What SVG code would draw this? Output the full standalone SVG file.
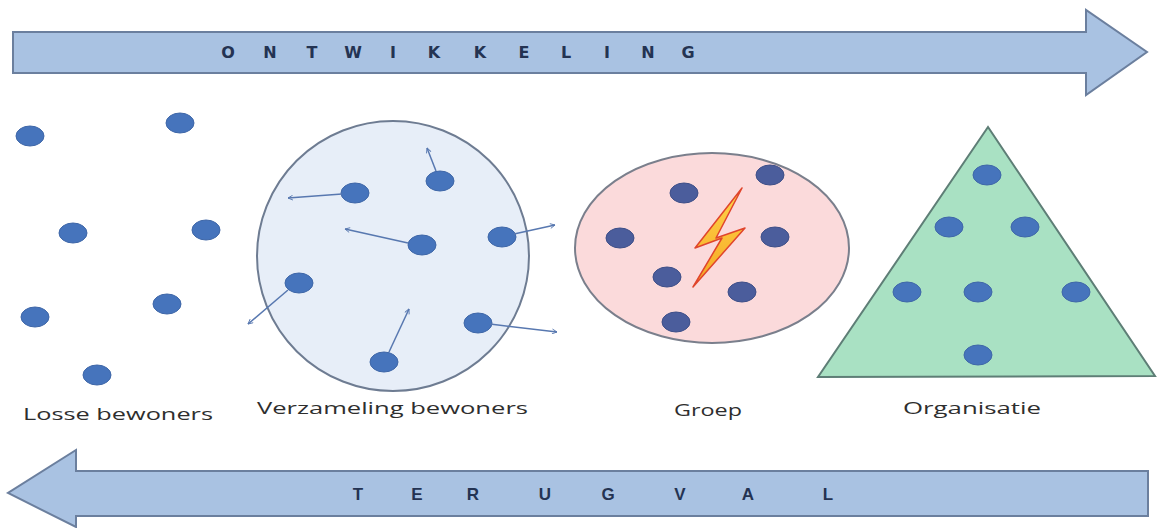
<svg xmlns="http://www.w3.org/2000/svg" width="1157" height="528" viewBox="0 0 1157 528">
<defs>
<style>
.dot{fill:#4674BC;stroke:#3F67A8;stroke-width:1}
.gdot{fill:#4B5D9C;stroke:#3E4F88;stroke-width:1}
.big{stroke:#6B7F9E;stroke-width:2;fill:#A9C2E2}
.bigtxt{font-family:"DejaVu Sans","Liberation Sans",sans-serif;font-weight:bold;fill:#243352}
.lbl{font-family:"Open Sans","Liberation Sans",sans-serif;font-size:17px;fill:#2E2E2E}
.mv{stroke:#5878B0;stroke-width:1.5;fill:none;marker-end:url(#ah)}
</style>
<marker id="ah" viewBox="0 0 10 10" refX="9" refY="5" markerWidth="6" markerHeight="6" orient="auto" markerUnits="userSpaceOnUse">
<path d="M1,1 L9,5 L1,9" fill="none" stroke="#5878B0" stroke-width="1.5"/>
</marker>
<linearGradient id="bolt" x1="0" y1="0" x2="0" y2="1">
<stop offset="0" stop-color="#FFD54A"/>
<stop offset="1" stop-color="#F5A623"/>
</linearGradient>
</defs>
<rect width="1157" height="528" fill="#FFFFFF"/>

<g id="ontwikkeling">
<path class="big" d="M13,32 L1086,32 L1086,10 L1147,52 L1086,95 L1086,73 L13,73 Z"/>
<g class="bigtxt" font-size="16" text-anchor="middle">
<text x="228" y="58">O</text><text x="270" y="58">N</text><text x="312" y="58">T</text><text x="353" y="58">W</text><text x="393" y="58">I</text><text x="434" y="58">K</text><text x="480" y="58">K</text><text x="524" y="58">E</text><text x="566" y="58">L</text><text x="607" y="58">I</text><text x="648" y="58">N</text><text x="688" y="58">G</text>
</g>
</g>

<g id="terugval">
<path class="big" d="M1148,471 L76,471 L76,450 L8,493 L76,527 L76,516 L1148,516 Z"/>
<g class="bigtxt" font-size="17" text-anchor="middle" style="font-family:'Liberation Sans','DejaVu Sans',sans-serif">
<text x="358" y="500">T</text><text x="417" y="500">E</text><text x="473" y="500">R</text><text x="545" y="500">U</text><text x="608" y="500">G</text><text x="680" y="500">V</text><text x="748" y="500">A</text><text x="828" y="500">L</text>
</g>
</g>

<g id="losse-bewoners">
<ellipse class="dot" cx="30" cy="136" rx="14" ry="10"/>
<ellipse class="dot" cx="180" cy="123" rx="14" ry="10"/>
<ellipse class="dot" cx="73" cy="233" rx="14" ry="10"/>
<ellipse class="dot" cx="206" cy="230" rx="14" ry="10"/>
<ellipse class="dot" cx="35" cy="317" rx="14" ry="10"/>
<ellipse class="dot" cx="167" cy="304" rx="14" ry="10"/>
<ellipse class="dot" cx="97" cy="375" rx="14" ry="10"/>
<text class="lbl" x="23" y="420" textLength="190" lengthAdjust="spacingAndGlyphs">Losse bewoners</text>
</g>

<g id="verzameling-bewoners">
<ellipse cx="393" cy="256" rx="136" ry="135" fill="#E7EEF8" stroke="#6E7C92" stroke-width="2"/>
<ellipse class="dot" cx="355" cy="193" rx="14" ry="10"/>
<ellipse class="dot" cx="440" cy="181" rx="14" ry="10"/>
<ellipse class="dot" cx="422" cy="245" rx="14" ry="10"/>
<ellipse class="dot" cx="502" cy="237" rx="14" ry="10"/>
<ellipse class="dot" cx="299" cy="283" rx="14" ry="10"/>
<ellipse class="dot" cx="478" cy="323" rx="14" ry="10"/>
<ellipse class="dot" cx="384" cy="362" rx="14" ry="10"/>
<text class="lbl" x="257" y="414" textLength="271" lengthAdjust="spacingAndGlyphs">Verzameling bewoners</text>
</g>

<g id="connectors">
<line class="mv" x1="342" y1="194" x2="288" y2="198"/>
<line class="mv" x1="436" y1="171" x2="427" y2="148"/>
<line class="mv" x1="408" y1="243" x2="345" y2="229"/>
<line class="mv" x1="514" y1="234" x2="555" y2="225"/>
<line class="mv" x1="288" y1="290" x2="248" y2="324"/>
<line class="mv" x1="490" y1="324" x2="557" y2="332"/>
<line class="mv" x1="389" y1="352" x2="409" y2="309"/>
</g>

<g id="groep">
<ellipse cx="712" cy="248" rx="137" ry="95" fill="#FBDADB" stroke="#7A7F8C" stroke-width="2"/>
<ellipse class="gdot" cx="684" cy="193" rx="14" ry="10"/>
<ellipse class="gdot" cx="770" cy="175" rx="14" ry="10"/>
<ellipse class="gdot" cx="620" cy="238" rx="14" ry="10"/>
<ellipse class="gdot" cx="775" cy="237" rx="14" ry="10"/>
<ellipse class="gdot" cx="667" cy="277" rx="14" ry="10"/>
<ellipse class="gdot" cx="742" cy="292" rx="14" ry="10"/>
<ellipse class="gdot" cx="676" cy="322" rx="14" ry="10"/>
<polygon points="742,188 695,248 722,238 693,287 745,228 716,238" fill="url(#bolt)" stroke="#E0452C" stroke-width="1.5" stroke-linejoin="round"/>
<text class="lbl" x="674" y="416" font-size="19" textLength="68" lengthAdjust="spacingAndGlyphs">Groep</text>
</g>

<g id="organisatie">
<polygon points="988,127 818,377 1155,376" fill="#A9E1C3" stroke="#5E7E76" stroke-width="2"/>
<ellipse class="dot" cx="987" cy="175" rx="14" ry="10"/>
<ellipse class="dot" cx="949" cy="227" rx="14" ry="10"/>
<ellipse class="dot" cx="1025" cy="227" rx="14" ry="10"/>
<ellipse class="dot" cx="907" cy="292" rx="14" ry="10"/>
<ellipse class="dot" cx="978" cy="292" rx="14" ry="10"/>
<ellipse class="dot" cx="1076" cy="292" rx="14" ry="10"/>
<ellipse class="dot" cx="978" cy="355" rx="14" ry="10"/>
<text class="lbl" x="903" y="414" font-size="18" textLength="138" lengthAdjust="spacingAndGlyphs">Organisatie</text>
</g>
</svg>
